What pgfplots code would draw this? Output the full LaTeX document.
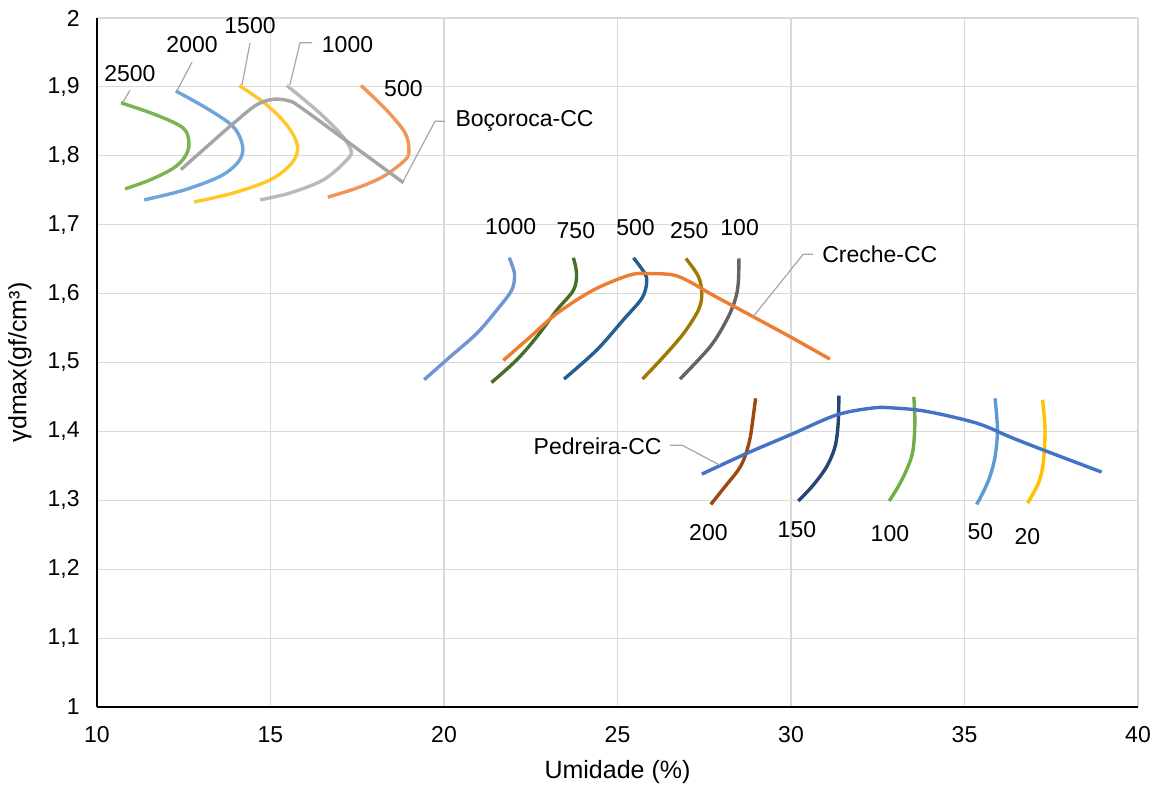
\documentclass[border=0pt]{standalone}
\usepackage{fontspec}
\setmainfont{Liberation Sans}
\usepackage{pgfplots}
\pgfplotsset{compat=1.18}
\definecolor{gA}{RGB}{122,180,80}
\definecolor{bA}{RGB}{110,165,220}
\definecolor{yA}{RGB}{255,200,40}
\definecolor{lgA}{RGB}{185,185,185}
\definecolor{oA}{RGB}{240,150,90}
\definecolor{dgA}{RGB}{165,165,165}
\definecolor{cB1}{RGB}{110,150,215}
\definecolor{cB2}{RGB}{72,110,40}
\definecolor{cB3}{RGB}{38,94,145}
\definecolor{cB4}{RGB}{158,122,0}
\definecolor{cB5}{RGB}{100,100,100}
\definecolor{cBc}{RGB}{237,125,49}
\definecolor{pC1}{RGB}{158,72,14}
\definecolor{pC2}{RGB}{38,68,120}
\definecolor{pC3}{RGB}{112,173,71}
\definecolor{pC4}{RGB}{91,155,213}
\definecolor{pC5}{RGB}{255,192,0}
\definecolor{pCc}{RGB}{68,114,196}
\definecolor{leader}{RGB}{166,166,166}
\begin{document}
\begin{tikzpicture}[font=\fontsize{11.5bp}{14bp}\selectfont]
\begin{axis}[
  at={(0,0)}, anchor=origin,
  scale only axis, width=520.5bp, height=344.5bp,
  xmin=10, xmax=40, ymin=1, ymax=2,
  xtick={10,15,...,40}, ytick={1,1.1,...,2.01},
  grid=major, grid style={draw=black!15, line width=0.6bp},
  axis lines*=left, axis line style={black, line width=0.8bp},
  major tick length=0pt,
  /pgf/number format/assume math mode=true,
  /pgf/number format/use comma,
  /pgf/number format/fixed,
  /pgf/number format/precision=1,
  xticklabel style={anchor=center, yshift=-14bp},
  yticklabel style={anchor=east, inner sep=0pt, xshift=-8.5bp},
  xlabel={Umidade (\%)}, ylabel={γdmax(gf/cm³)},
  x label style={at={(axis description cs:0.5,0)}, anchor=center, yshift=-32.5bp, font=\fontsize{12.5bp}{15bp}\selectfont},
  y label style={at={(axis description cs:-0.074,0.5)}, anchor=center, rotate=0, font=\fontsize{12.5bp}{15bp}\selectfont},
  clip=false,
  every axis plot/.append style={line width=1.7bp, smooth, tension=0.55, no marks},
]
% Bocoroca
\addplot[gA] coordinates {(10.69,1.877) (11.72,1.859) (12.49,1.840) (12.65,1.818) (12.54,1.799) (12.20,1.782) (11.53,1.765) (10.81,1.752)};
\addplot[bA] coordinates {(12.27,1.894) (13.16,1.869) (13.93,1.842) (14.20,1.813) (14.07,1.791) (13.54,1.770) (12.49,1.750) (11.36,1.736)};
\addplot[yA] coordinates {(14.10,1.902) (14.89,1.874) (15.51,1.842) (15.78,1.813) (15.61,1.789) (14.99,1.765) (13.93,1.746) (12.80,1.733)};
\addplot[lgA] coordinates {(15.47,1.902) (16.33,1.866) (17.00,1.833) (17.32,1.808) (17.20,1.794) (16.52,1.765) (15.56,1.746) (14.70,1.736)};
\addplot[oA] coordinates {(17.61,1.902) (18.35,1.866) (18.88,1.833) (18.99,1.808) (18.88,1.794) (18.25,1.770) (17.48,1.753) (16.65,1.740)};
\addplot[dgA] coordinates {(12.42,1.780) (13.16,1.813) (13.93,1.847) (14.60,1.874) (15.08,1.882) (15.51,1.880) (15.85,1.871) (17.34,1.816) (18.83,1.761)};
% Creche
\addplot[cB1] coordinates {(21.88,1.652) (22.03,1.629) (21.95,1.605) (21.52,1.576) (20.94,1.542) (20.17,1.508) (19.43,1.475)};
\addplot[cB2] coordinates {(23.73,1.652) (23.82,1.629) (23.73,1.605) (23.25,1.576) (22.67,1.537) (22.10,1.504) (21.37,1.471)};
\addplot[cB3] coordinates {(25.46,1.652) (25.79,1.629) (25.84,1.615) (25.70,1.593) (25.17,1.562) (24.40,1.518) (23.46,1.476)};
\addplot[cB4] coordinates {(26.97,1.651) (27.33,1.625) (27.43,1.600) (27.33,1.576) (26.90,1.542) (26.32,1.508) (25.72,1.476)};
\addplot[cB5] coordinates {(28.50,1.651) (28.48,1.615) (28.39,1.591) (28.15,1.562) (27.67,1.523) (26.80,1.476)};
\addplot[cBc] coordinates {(21.71,1.503) (22.48,1.537) (23.25,1.571) (24.30,1.605) (25.36,1.627) (25.94,1.629) (26.61,1.627) (27.09,1.617) (27.67,1.600) (28.63,1.574) (29.88,1.540) (31.12,1.505)};
% Pedreira
\addplot[pC1] coordinates {(28.98,1.448) (28.91,1.421) (28.82,1.390) (28.67,1.363) (28.48,1.344) (28.10,1.320) (27.69,1.294)};
\addplot[pC2] coordinates {(31.38,1.452) (31.36,1.412) (31.27,1.378) (31.03,1.349) (30.64,1.322) (30.21,1.299)};
\addplot[pC3] coordinates {(33.54,1.450) (33.57,1.412) (33.51,1.371) (33.33,1.344) (33.09,1.320) (32.83,1.299)};
\addplot[pC4] coordinates {(35.88,1.448) (35.95,1.402) (35.88,1.363) (35.73,1.334) (35.54,1.312) (35.35,1.294)};
\addplot[pC5] coordinates {(37.25,1.446) (37.32,1.402) (37.27,1.354) (37.13,1.325) (36.82,1.296)};
\addplot[pCc] coordinates {(27.43,1.338) (28.72,1.368) (30.07,1.397) (31.32,1.424) (32.37,1.434) (32.95,1.434) (33.91,1.429) (35.35,1.412) (36.31,1.392) (37.27,1.373) (38.95,1.341)};
% leader lines
\draw[leader, line width=0.6bp] (axis cs:10.95,1.895) -- (axis cs:10.75,1.878);
\draw[leader, line width=0.6bp] (axis cs:12.74,1.936) -- (axis cs:12.31,1.895);
\draw[leader, line width=0.6bp] (axis cs:14.41,1.964) -- (axis cs:14.18,1.903);
\draw[leader, line width=0.6bp] (axis cs:16.20,1.964) -- (axis cs:15.85,1.964) -- (axis cs:15.56,1.903);
\draw[leader, line width=0.6bp] (axis cs:20.03,1.850) -- (axis cs:19.74,1.850) -- (axis cs:18.79,1.760);
\draw[leader, line width=0.6bp] (axis cs:30.63,1.657) -- (axis cs:30.35,1.657) -- (axis cs:28.90,1.566);
\draw[leader, line width=0.6bp] (axis cs:26.51,1.380) -- (axis cs:26.86,1.380) -- (axis cs:27.95,1.351);
% labels
\node at (axis cs:10.95,1.919) {2500};
\node at (axis cs:12.74,1.961) {2000};
\node at (axis cs:14.41,1.989) {1500};
\node at (axis cs:17.22,1.961) {1000};
\node at (axis cs:18.83,1.898) {500};
\node[anchor=west, inner sep=0pt] at (axis cs:20.32,1.850) {Boçoroca-CC};
\node at (axis cs:21.92,1.697) {1000};
\node at (axis cs:23.80,1.692) {750};
\node at (axis cs:25.52,1.696) {500};
\node at (axis cs:27.07,1.692) {250};
\node at (axis cs:28.52,1.696) {100};
\node[anchor=west, inner sep=0pt] at (axis cs:30.89,1.657) {Creche-CC};
\node[anchor=east, inner sep=0pt] at (axis cs:26.28,1.379) {Pedreira-CC};
\node at (axis cs:27.62,1.253) {200};
\node at (axis cs:30.17,1.257) {150};
\node at (axis cs:32.85,1.251) {100};
\node at (axis cs:35.46,1.255) {50};
\node at (axis cs:36.81,1.248) {20};
\end{axis}
\pgfresetboundingbox
\path (-48.5bp,-42.5bp) rectangle (532.5bp,353.5bp);
\end{tikzpicture}
\end{document}
